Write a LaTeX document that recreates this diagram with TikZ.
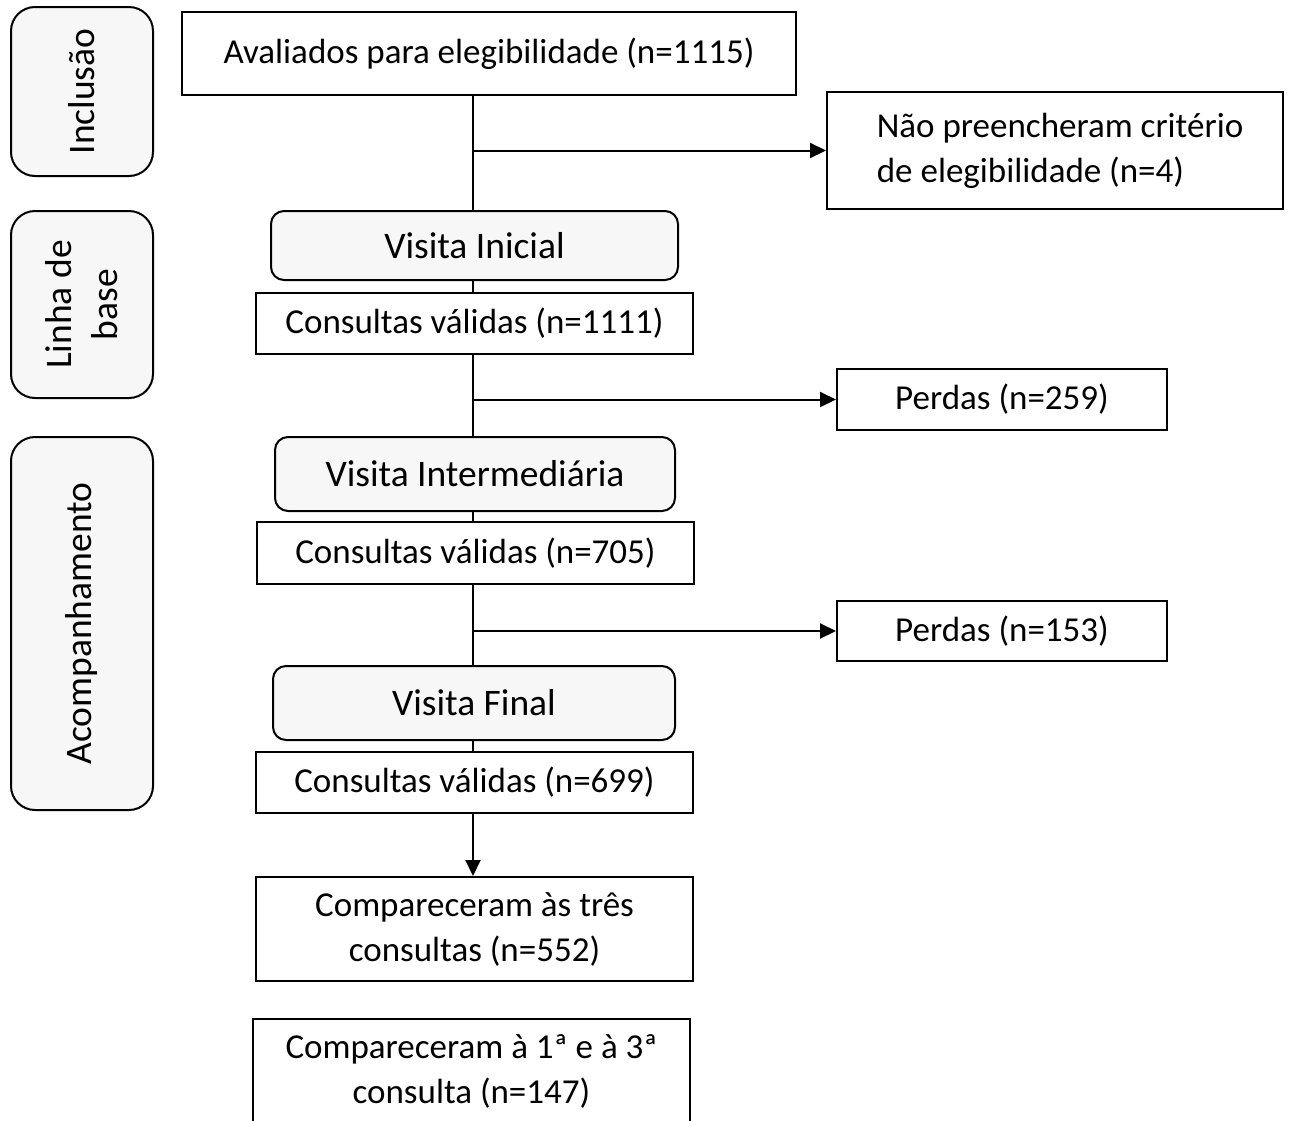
\documentclass[tikz,border=0pt]{standalone}
\usepackage{fontspec}
\setmainfont{Carlito}
\usetikzlibrary{arrows.meta}
\begin{document}
\begin{tikzpicture}[x=1pt,y=-1pt]
        \tikzstyle{box}=[rectangle,draw=black,line width=2pt,inner sep=0pt,align=center,font=\fontsize{35}{45}\selectfont]
        \tikzstyle{visit}=[box,rounded corners=13pt,fill=black!3,font=\fontsize{37.5}{45}\selectfont]
        \tikzstyle{phase}=[box,rounded corners=24pt,fill=black!3,rotate=90,minimum height=142pt,font=\fontsize{37.5}{46}\selectfont]
        \tikzstyle{link}=[line width=2pt]
        \tikzstyle{arrow}=[link,-{Triangle[length=16pt,width=15pt]}]
        \useasboundingbox (0,0) rectangle (1290,1120);

        \node[phase,minimum width=169pt] (p1) at (82,91.5) {Inclusão};
        \node[phase,minimum width=187pt] (p2) at (82,304.5) {Linha de\\base};
        \node[phase,minimum width=373pt] (p3) at (82,623.5) {Acompanhamento};

        \node[box,minimum width=614pt,minimum height=83pt] (aval) at (489,53.5) {Avaliados para elegibilidade (n=1115)};
        \node[box,minimum width=456pt,minimum height=117pt,align=left] (excl) at (1055,150.5) {\hspace*{10pt}Não preencheram critério\\\hspace*{10pt}de elegibilidade (n=4)};

        \node[visit,minimum width=407pt,minimum height=69pt] (v1) at (474.5,245.5) {\raisebox{-4pt}{Visita Inicial}};
        \node[box,minimum width=437pt,minimum height=61pt] (c1) at (474.5,323.5) {Consultas válidas (n=1111)};
        \node[box,minimum width=330pt,minimum height=61pt] (l1) at (1002,399.5) {Perdas (n=259)};

        \node[visit,minimum width=400pt,minimum height=74pt] (v2) at (475,474) {Visita Intermediária};
        \node[box,minimum width=437pt,minimum height=62pt] (c2) at (475.5,553) {Consultas válidas (n=705)};
        \node[box,minimum width=330pt,minimum height=60pt] (l2) at (1002,631) {Perdas (n=153)};

        \node[visit,minimum width=402pt,minimum height=74pt] (v3) at (474,703) {Visita Final};
        \node[box,minimum width=437pt,minimum height=61pt] (c3) at (474.5,782.5) {Consultas válidas (n=699)};

        \node[box,minimum width=437pt,minimum height=104pt] (all) at (474.5,929) {Compareceram às três\\consultas (n=552)};
        \node[box,minimum width=437pt,minimum height=104pt] (two) at (471.5,1071) {Compareceram à 1ª e à 3ª\\consulta (n=147)};

        \coordinate (spine) at (473,0);
        \draw[link] (spine |- aval.south) -- (spine |- v1.north);
        \draw[arrow] (spine |- excl.west) -- (excl.west);
        \draw[link] (spine |- v1.south) -- (spine |- c1.north);
        \draw[link] (spine |- c1.south) -- (spine |- v2.north);
        \draw[arrow] (spine |- l1.west) -- (l1.west);
        \draw[link] (spine |- v2.south) -- (spine |- c2.north);
        \draw[link] (spine |- c2.south) -- (spine |- v3.north);
        \draw[arrow] (spine |- l2.west) -- (l2.west);
        \draw[link] (spine |- v3.south) -- (spine |- c3.north);
        \draw[arrow] (spine |- c3.south) -- (spine |- all.north);
    \end{tikzpicture}
\end{document}
